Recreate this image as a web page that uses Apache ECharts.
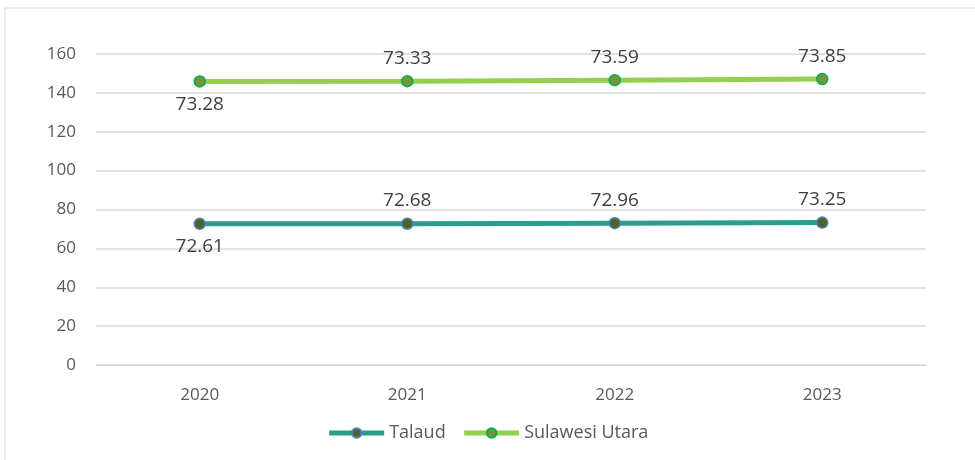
<!DOCTYPE html>
<html>
<head>
<meta charset="utf-8">
<script src="https://cdn.jsdelivr.net/npm/echarts@6/dist/echarts.min.js"></script>
<style>
  html, body { margin: 0; padding: 0; background: #fff; }
  #chart { width: 975px; height: 460px; }
</style>
</head>
<body>
<div id="chart"></div>
<script>
var years = ['2020', '2021', '2022', '2023'];
var talaud = [72.61, 72.68, 72.96, 73.25];
var sulut = [73.28, 73.33, 73.59, 73.85];
var yTicks = [0, 20, 40, 60, 80, 100, 120, 140, 160];

var myChart = echarts.init(document.getElementById('chart'));
var font = '"Open Sans", "Liberation Sans", sans-serif';

// first label sits below the point, the rest above
function labelPos(i) { return i === 0 ? 'bottom' : 'top'; }

function mkData(arr) {
    return arr.map(function (v, i) {
        return { value: v, label: { position: labelPos(i) } };
    });
}

var option = {
    animation: false,
    textStyle: { fontFamily: font },
    graphic: [{
        type: 'rect',
        shape: { x: 5, y: 8, width: 990, height: 470 },
        style: { fill: 'none', stroke: '#d9d9d9', lineWidth: 1 }
    }],
    grid: { left: 96, right: 49, top: 54, bottom: 95 },
    legend: {
        bottom: 13,
        left: 'center',
        itemWidth: 55,
        itemHeight: 12,
        itemGap: 16,
        lineStyle: { width: 5 },
        textStyle: { fontSize: 18, color: '#595959', fontFamily: font },
        data: ['Talaud', 'Sulawesi Utara']
    },
    xAxis: {
        type: 'category',
        data: years,
        boundaryGap: true,
        axisLine: { lineStyle: { color: '#d9d9d9', width: 1 } },
        axisTick: { show: false },
        axisLabel: { fontSize: 17, color: '#595959', margin: 22 }
    },
    yAxis: {
        type: 'value',
        min: yTicks[0],
        max: yTicks[yTicks.length - 1],
        interval: 20,
        axisLine: { show: false },
        axisTick: { show: false },
        axisLabel: { fontSize: 17, color: '#595959', margin: 20 },
        splitLine: { lineStyle: { color: '#d9d9d9', width: 1.5 } }
    },
    series: [{
        name: 'Talaud',
        type: 'line',
        stack: 'total',
        data: mkData(talaud),
        symbol: 'circle',
        symbolSize: 11,
        lineStyle: { color: '#2a9d8c', width: 5 },
        itemStyle: { color: '#4f6228', borderColor: '#4f81bd', borderWidth: 1.5 },
        label: { show: true, fontSize: 19, color: '#404040', distance: 7 }
    }, {
        name: 'Sulawesi Utara',
        type: 'line',
        stack: 'total',
        data: mkData(sulut),
        symbol: 'circle',
        symbolSize: 11,
        lineStyle: { color: '#92d050', width: 5 },
        itemStyle: { color: '#77933c', borderColor: '#00b050', borderWidth: 1.5 },
        label: { show: true, fontSize: 19, color: '#404040', distance: 7 }
    }]
};
myChart.setOption(option);
</script>
</body>
</html>
